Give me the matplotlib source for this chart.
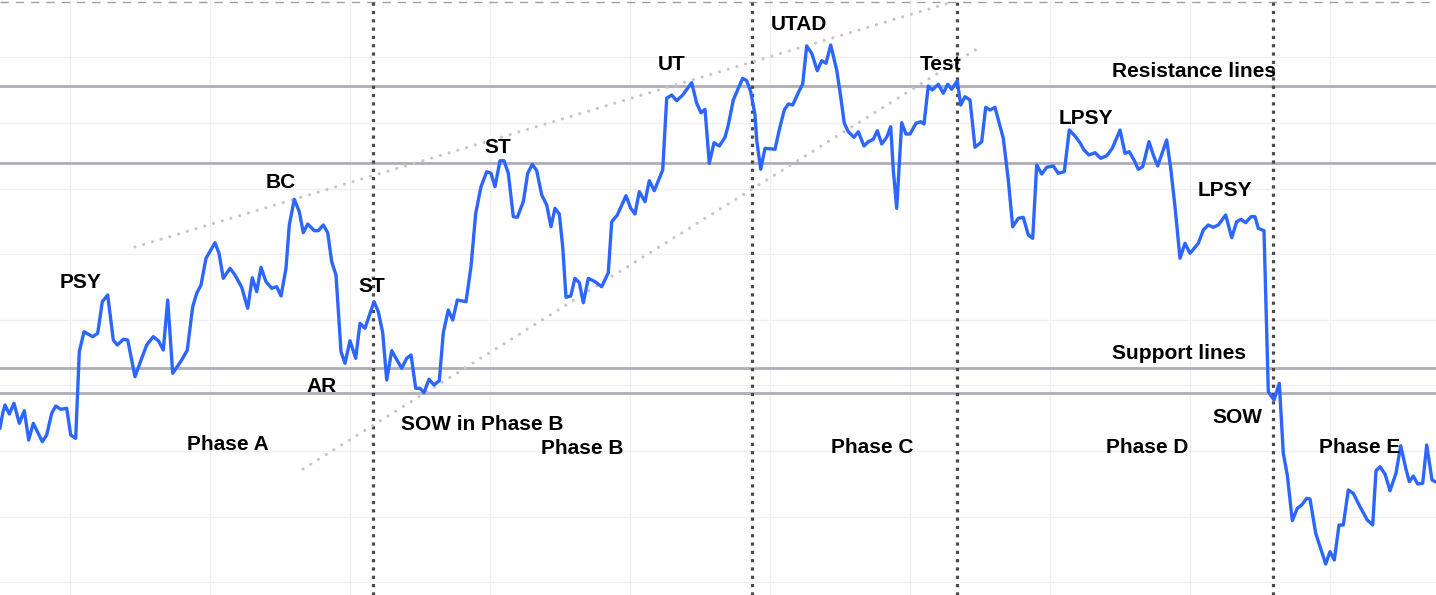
import numpy as np
import matplotlib
matplotlib.use("Agg")
import matplotlib.pyplot as plt

# ---- price path (time units, price) ----
t = [
    0.00, 0.27, 0.50, 0.93, 1.40, 1.93, 2.43, 2.87, 3.33, 4.23,
    4.67, 5.17, 5.57, 6.07, 6.67, 7.07, 7.57, 7.93, 8.40, 9.27,
    9.77, 10.23, 10.77, 11.33, 11.73, 12.33, 12.77, 13.50, 14.17, 14.67,
    15.33, 15.83, 16.33, 16.77, 17.27, 18.17, 18.73, 19.27, 19.67, 20.10,
    20.60, 21.50, 21.90, 22.33, 23.00, 23.50, 24.17, 24.77, 25.23, 25.67,
    26.10, 26.60, 27.17, 27.67, 28.10, 28.60, 28.93, 29.43, 29.93, 30.33,
    30.77, 31.43, 31.83, 32.33, 32.77, 33.17, 33.60, 34.10, 34.50, 35.00,
    35.57, 36.00, 36.50, 37.40, 37.83, 38.27, 38.67, 39.17, 40.17, 40.67,
    41.10, 41.57, 42.00, 42.40, 42.90, 43.40, 43.93, 44.33, 44.83, 45.27,
    45.73, 46.60, 47.10, 47.57, 48.10, 48.67, 49.10, 49.50, 50.00, 50.40,
    50.83, 51.33, 51.73, 52.33, 52.77, 53.23, 53.67, 54.17, 54.67, 55.10,
    55.50, 55.93, 56.27, 56.60, 57.07, 57.50, 57.93, 58.33, 58.83, 59.50,
    60.17, 60.83, 61.17, 61.73, 62.60, 63.07, 63.50, 63.93, 64.50, 64.93,
    65.43, 66.27, 66.67, 67.17, 67.67, 68.27, 69.17, 69.67, 70.10, 70.50,
    70.93, 71.40, 71.93, 72.50, 72.83, 73.33, 73.83, 74.27, 74.67, 75.07,
    75.50, 75.67, 76.07, 76.50, 77.50, 78.00, 78.43, 78.83, 79.27, 79.83,
    80.27, 80.67, 81.17, 81.73, 82.17, 82.60, 83.07, 83.67, 84.07, 84.43,
    84.83, 85.40, 85.83, 86.40, 86.83, 87.33, 87.73, 88.17, 88.67, 89.07,
    89.33, 89.67, 90.17, 90.60, 91.00, 91.60, 92.07, 92.40, 92.83, 93.23,
    93.83, 94.33, 94.77, 95.17, 95.73, 96.07, 96.50, 97.00, 97.50, 98.17,
    98.57, 99.00, 99.50, 100.33, 100.83, 101.27, 101.83, 102.33, 102.83, 103.27,
    103.67, 104.17, 104.67, 105.33, 105.83, 106.43, 106.93, 107.50, 108.00, 108.40,
    108.90, 109.50, 110.07, 110.67, 111.23, 112.00, 112.50, 112.93, 113.40, 113.83,
    114.27, 114.90, 115.33, 115.77, 116.67, 117.07, 117.50, 118.00, 118.50, 119.00,
    119.83, 120.33, 120.83, 121.33, 121.83, 122.57, 123.17, 123.67, 124.10, 124.57,
    125.10, 125.50, 125.83, 126.40, 126.83, 127.40, 127.93, 128.33, 128.73, 129.23,
    129.73, 130.17, 130.67, 131.00, 131.57, 132.17, 132.57, 133.00, 133.43, 133.90,
    134.33, 134.83, 135.33, 136.00, 136.73, 137.27, 137.60, 138.00, 138.50, 139.00,
    139.60, 140.07, 140.60, 140.93, 141.33, 141.77, 142.27, 142.67, 143.20, 143.60,
]
price = [
    17.20, 18.67, 19.50, 18.60, 19.67, 17.67, 18.93, 16.00, 17.67, 15.83,
    16.50, 18.67, 19.40, 19.07, 19.17, 16.50, 16.17, 24.83, 26.83, 26.33,
    26.67, 29.83, 30.50, 26.00, 25.50, 26.07, 26.00, 22.33, 24.17, 25.50,
    26.33, 25.93, 25.00, 30.00, 22.67, 24.00, 25.00, 29.33, 30.67, 31.50,
    34.17, 35.73, 34.67, 32.17, 33.17, 32.50, 31.27, 29.17, 32.23, 30.83,
    33.27, 31.83, 31.17, 31.33, 30.40, 33.17, 37.50, 40.07, 38.83, 36.73,
    37.60, 36.93, 36.93, 37.50, 36.73, 33.83, 32.50, 24.83, 23.67, 25.93,
    24.17, 27.67, 27.17, 29.83, 28.83, 26.73, 22.00, 24.93, 23.17, 24.17,
    24.50, 21.17, 21.17, 20.73, 22.07, 21.50, 21.93, 26.73, 29.00, 28.00,
    30.00, 29.83, 33.33, 38.67, 41.33, 42.83, 42.67, 41.33, 43.93, 43.93,
    42.67, 38.33, 38.27, 39.83, 42.67, 43.57, 42.93, 40.50, 39.50, 37.33,
    39.17, 38.60, 35.33, 30.27, 30.40, 32.17, 31.73, 29.73, 32.17, 31.83,
    31.33, 32.73, 37.83, 38.50, 40.43, 39.17, 38.60, 40.83, 39.83, 41.93,
    40.93, 43.00, 50.17, 50.50, 49.93, 50.50, 51.73, 49.67, 48.73, 49.07,
    43.67, 45.73, 45.40, 46.27, 47.50, 50.00, 51.17, 52.17, 51.93, 50.83,
    48.50, 46.00, 43.07, 45.17, 45.07, 47.33, 49.00, 49.60, 49.50, 50.73,
    51.60, 55.40, 54.67, 52.93, 53.93, 53.67, 55.50, 53.00, 50.33, 47.67,
    46.83, 46.27, 46.83, 45.40, 45.83, 46.07, 46.93, 45.60, 46.27, 47.33,
    43.00, 39.17, 47.73, 46.60, 46.60, 47.67, 47.83, 47.60, 51.40, 51.00,
    51.57, 50.67, 51.57, 51.07, 51.93, 49.50, 50.33, 50.00, 45.27, 45.83,
    49.27, 49.00, 49.27, 46.17, 42.00, 37.33, 38.17, 38.27, 36.50, 36.17,
    43.50, 42.60, 43.27, 43.40, 42.67, 42.83, 47.00, 46.40, 45.73, 45.00,
    44.50, 44.73, 44.17, 44.43, 45.17, 47.00, 44.67, 44.83, 44.00, 43.07,
    43.33, 45.83, 44.50, 43.40, 46.00, 43.17, 39.33, 34.17, 35.67, 34.67,
    35.67, 37.00, 37.50, 37.27, 37.50, 38.50, 36.23, 37.83, 38.07, 37.73,
    38.33, 38.33, 37.17, 36.93, 20.83, 20.00, 21.67, 14.67, 12.50, 7.93,
    9.17, 9.50, 10.17, 10.10, 6.67, 4.83, 3.60, 4.83, 4.00, 7.50,
    7.50, 11.00, 10.67, 9.33, 8.00, 7.50, 12.93, 13.33, 12.60, 10.93,
    12.67, 15.43, 13.07, 11.83, 12.40, 11.60, 11.67, 15.50, 12.00, 11.80,
]
assert len(t) == len(price)

resistance_levels = [51.40, 43.73]
support_levels = [23.17, 20.67]
top_level = 59.8
phase_boundaries = [37.33, 75.17, 95.67, 127.33]

# trend channels (start t, start price, end t, end price)
upper_trend_t = [13.5, 95.5]
upper_trend_p = [35.3, 59.88]
lower_trend_t = [30.3, 98.0]
lower_trend_p = [13.1, 55.3]

labels = ["PSY", "BC", "AR", "ST", "SOW in Phase B", "Phase A", "ST", "Phase B",
          "UT", "UTAD", "Test", "Phase C", "Resistance lines", "LPSY", "LPSY",
          "Support lines", "SOW", "Phase D", "Phase E"]
label_t = [8.1, 28.1, 32.2, 37.2, 48.2, 22.8, 49.8, 58.2,
           67.2, 79.9, 94.1, 87.2, 119.35, 108.55, 122.5,
           117.9, 123.7, 114.7, 136.0]
label_p = [31.2, 41.2, 20.85, 30.75, 17.0, 15.0, 44.7, 14.6,
           53.0, 56.96, 53.04, 14.7, 52.3, 47.64, 40.42,
           24.1, 17.72, 14.7, 14.7]

grid_t = [7 + 14 * k for k in range(10)]
grid_p = [1.79 + 6.56 * k for k in range(9)]

# ---- figure ----
fig = plt.figure(figsize=(14.36, 5.95), dpi=100)
ax = fig.add_axes([0, 0, 1, 1])
for s in ax.spines.values():
    s.set_visible(False)
ax.set_xticks(grid_t)
ax.set_yticks(grid_p)
ax.tick_params(length=0, labelbottom=False, labelleft=False)
ax.grid(True, color="#eeeef3", linewidth=0.9, zorder=0)
ax.set_axisbelow(True)

for lv in resistance_levels + support_levels:
    ax.axhline(lv, color="#aeaeb8", linewidth=2.0, zorder=2)
ax.axhline(top_level, color="#a0a0a0", linewidth=1.0, linestyle=(0, (6, 5)), zorder=2)

for pb in phase_boundaries:
    ax.axvline(pb, color="#4a4a4a", linewidth=2.3, linestyle=(0, (1, 1.6)), zorder=3)

for tt, pp in ((upper_trend_t, upper_trend_p), (lower_trend_t, lower_trend_p)):
    ax.plot(tt, pp, color="#c6c6c6", linewidth=2.3, linestyle=(0, (0.001, 2.85)),
            dash_capstyle="round", zorder=3)

ax.plot(t, price, color="#2c66ff", linewidth=2.4, solid_joinstyle="round", zorder=4)

for txt, x, y in zip(labels, label_t, label_p):
    ax.text(x, y, txt, ha="center", va="baseline", fontsize=15, fontweight="bold",
            family=["Liberation Sans", "DejaVu Sans"], color="#000000", zorder=5)

ax.set_xlim(0, 143.6)
ax.set_ylim(0.5, 60.0)

fig.savefig("out.png", dpi=100)
